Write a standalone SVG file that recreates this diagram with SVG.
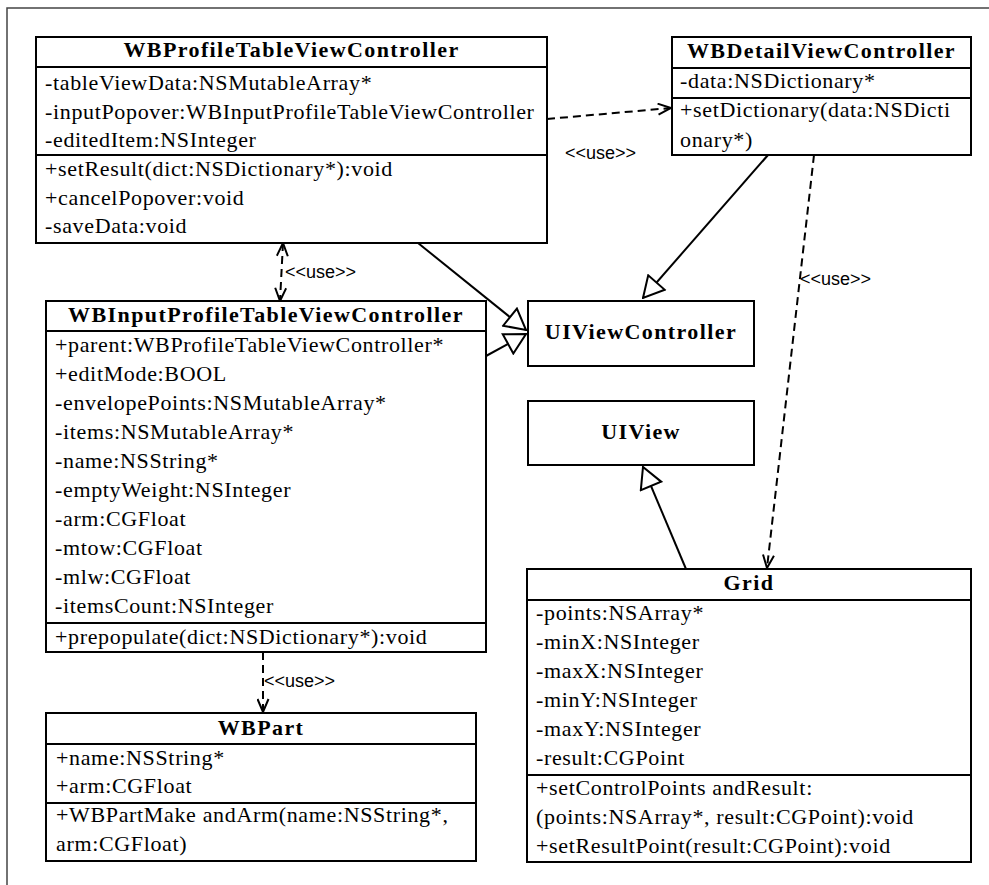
<svg xmlns="http://www.w3.org/2000/svg" width="989" height="885" viewBox="0 0 989 885">
  <style>
    .box { fill: #fff; stroke: #000; stroke-width: 2; }
    .sep { stroke: #000; stroke-width: 2; }
    .t { font-family: "Liberation Serif", "Times New Roman", serif; font-size: 22px; letter-spacing: 0.65px; fill: #000; }
    .h { font-family: "Liberation Serif", "Times New Roman", serif; font-size: 22px; font-weight: bold; letter-spacing: 1.4px; text-anchor: middle; fill: #000; }
    .lbl { font-family: "Liberation Sans", Arial, sans-serif; font-size: 18px; fill: #000; }
    .dep { fill: none; stroke: #000; stroke-width: 2; stroke-dasharray: 8 5; }
    .gen { fill: none; stroke: #000; stroke-width: 2; }
  </style>
  <defs>
    <marker id="open" viewBox="0 0 15 13" refX="14" refY="6.5" markerWidth="15" markerHeight="13" markerUnits="userSpaceOnUse" orient="auto-start-reverse">
      <path d="M1,1 L14,6.5 L1,12" fill="none" stroke="#000" stroke-width="2" stroke-dasharray="none"/>
    </marker>
    <marker id="tri" viewBox="0 0 23 25" refX="22" refY="12.5" markerWidth="23" markerHeight="25" markerUnits="userSpaceOnUse" orient="auto">
      <path d="M1.5,1.5 L22,12.5 L1.5,23.5 Z" fill="#fff" stroke="#000" stroke-width="2" stroke-linejoin="miter"/>
    </marker>
  </defs>

  <rect width="989" height="885" fill="#fff"/>
  <!-- page frame -->
  <polyline points="7,885 7,8 989,8" fill="none" stroke="#444" stroke-width="1.5"/>

  <!-- connectors -->
  <g id="connectors">
    <path class="dep" d="M547,119 L671,108" marker-end="url(#open)"/>
    <path class="dep" d="M283,243 L280,301" marker-start="url(#open)" marker-end="url(#open)"/>
    <path class="dep" d="M263,652 L263,712" marker-end="url(#open)"/>
    <path class="dep" d="M814,155 L767,568" marker-end="url(#open)"/>
    <path class="gen" d="M418,243 L526,330" marker-end="url(#tri)"/>
    <path class="gen" d="M486,356 L526,334" marker-end="url(#tri)"/>
    <path class="gen" d="M768,155 L643,298" marker-end="url(#tri)"/>
    <path class="gen" d="M686,569 L643,467" marker-end="url(#tri)"/>
    <text class="lbl" x="565" y="159">&lt;&lt;use&gt;&gt;</text>
    <text class="lbl" x="285" y="278">&lt;&lt;use&gt;&gt;</text>
    <text class="lbl" x="264" y="687">&lt;&lt;use&gt;&gt;</text>
    <text class="lbl" x="800" y="285">&lt;&lt;use&gt;&gt;</text>
  </g>

  <g id="WBProfileTableViewController">
    <rect class="box" x="36" y="37" width="511" height="206"/>
    <line class="sep" x1="36" y1="67" x2="547" y2="67"/>
    <line class="sep" x1="36" y1="155" x2="547" y2="155"/>
    <text class="h" x="291.5" y="57">WBProfileTableViewController</text>
    <text class="t" x="45" y="90">-tableViewData:NSMutableArray*</text>
    <text class="t" x="45" y="119">-inputPopover:WBInputProfileTableViewController</text>
    <text class="t" x="45" y="147">-editedItem:NSInteger</text>
    <text class="t" x="45" y="176">+setResult(dict:NSDictionary*):void</text>
    <text class="t" x="45" y="205">+cancelPopover:void</text>
    <text class="t" x="45" y="233">-saveData:void</text>
  </g>

  <g id="WBDetailViewController">
    <rect class="box" x="672" y="37" width="299" height="118"/>
    <line class="sep" x1="672" y1="68" x2="971" y2="68"/>
    <line class="sep" x1="672" y1="98" x2="971" y2="98"/>
    <text class="h" x="821.5" y="58">WBDetailViewController</text>
    <text class="t" x="680" y="88">-data:NSDictionary*</text>
    <text class="t" x="680" y="117">+setDictionary(data:NSDicti</text>
    <text class="t" x="680" y="147">onary*)</text>
  </g>

  <g id="WBInputProfileTableViewController">
    <rect class="box" x="46" y="301" width="440" height="351"/>
    <line class="sep" x1="46" y1="331" x2="486" y2="331"/>
    <line class="sep" x1="46" y1="623" x2="486" y2="623"/>
    <text class="h" x="266" y="322">WBInputProfileTableViewController</text>
    <text class="t" x="55" y="352">+parent:WBProfileTableViewController*</text>
    <text class="t" x="55" y="381">+editMode:BOOL</text>
    <text class="t" x="55" y="410">-envelopePoints:NSMutableArray*</text>
    <text class="t" x="55" y="439">-items:NSMutableArray*</text>
    <text class="t" x="55" y="468">-name:NSString*</text>
    <text class="t" x="55" y="497">-emptyWeight:NSInteger</text>
    <text class="t" x="55" y="526">-arm:CGFloat</text>
    <text class="t" x="55" y="555">-mtow:CGFloat</text>
    <text class="t" x="55" y="584">-mlw:CGFloat</text>
    <text class="t" x="55" y="613">-itemsCount:NSInteger</text>
    <text class="t" x="55" y="644">+prepopulate(dict:NSDictionary*):void</text>
  </g>

  <g id="UIViewController">
    <rect class="box" x="528" y="301" width="226" height="65"/>
    <text class="h" x="641" y="339">UIViewController</text>
  </g>

  <g id="UIView">
    <rect class="box" x="528" y="401" width="226" height="64"/>
    <text class="h" x="641" y="439">UIView</text>
  </g>

  <g id="Grid">
    <rect class="box" x="527" y="569" width="444" height="293"/>
    <line class="sep" x1="527" y1="600" x2="971" y2="600"/>
    <line class="sep" x1="527" y1="775" x2="971" y2="775"/>
    <text class="h" x="749" y="590">Grid</text>
    <text class="t" x="536" y="620">-points:NSArray*</text>
    <text class="t" x="536" y="649">-minX:NSInteger</text>
    <text class="t" x="536" y="678">-maxX:NSInteger</text>
    <text class="t" x="536" y="707">-minY:NSInteger</text>
    <text class="t" x="536" y="736">-maxY:NSInteger</text>
    <text class="t" x="536" y="765">-result:CGPoint</text>
    <text class="t" x="536" y="795">+setControlPoints andResult:</text>
    <text class="t" x="536" y="824">(points:NSArray*, result:CGPoint):void</text>
    <text class="t" x="536" y="853">+setResultPoint(result:CGPoint):void</text>
  </g>

  <g id="WBPart">
    <rect class="box" x="46" y="713" width="430" height="148"/>
    <line class="sep" x1="46" y1="744" x2="476" y2="744"/>
    <line class="sep" x1="46" y1="803" x2="476" y2="803"/>
    <text class="h" x="261" y="735">WBPart</text>
    <text class="t" x="56" y="765">+name:NSString*</text>
    <text class="t" x="56" y="793">+arm:CGFloat</text>
    <text class="t" x="56" y="822">+WBPartMake andArm(name:NSString*,</text>
    <text class="t" x="56" y="851">arm:CGFloat)</text>
  </g>
</svg>
